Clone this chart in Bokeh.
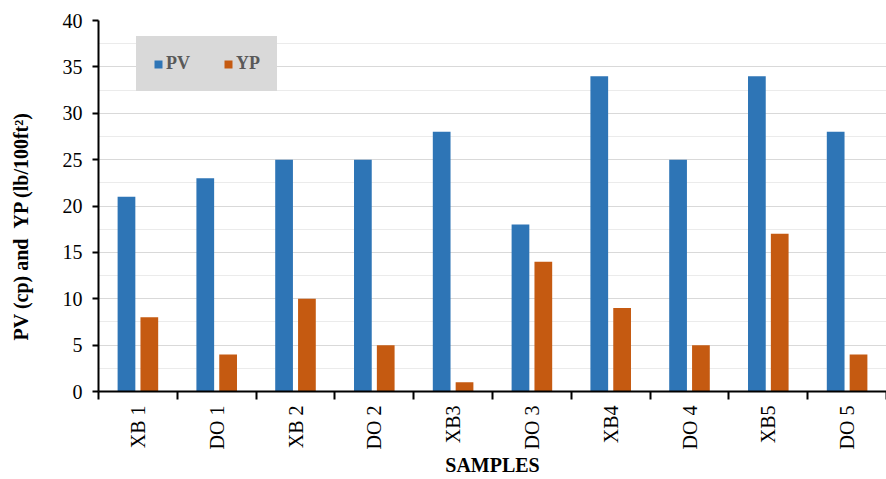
import math
from bokeh.plotting import figure
from bokeh.models import (ColumnDataSource, Range1d, LinearAxis,
                          FixedTicker, SingleIntervalTicker, Legend, LegendItem)
from bokeh.transform import dodge
from bokeh.embed import file_html
from bokeh.resources import INLINE

samples = ["XB 1", "DO 1", "XB 2", "DO 2", "XB3", "DO 3", "XB4", "DO 4", "XB5", "DO 5"]
pv = [21, 23, 25, 25, 28, 18, 34, 25, 34, 28]
yp = [8, 4, 10, 5, 1, 14, 9, 5, 17, 4]

FONT = "Liberation Serif"
BLUE = "#2e75b6"
ORANGE = "#c55a11"
LEGEND_BG = "#d9d9d9"

n = len(samples)
centers = [i + 0.5 for i in range(n)]
src = ColumnDataSource(dict(x=centers, pv=pv, yp=yp))

p = figure(x_range=Range1d(0, n), y_range=Range1d(0, 40),
           width=886, height=479, output_backend="svg", toolbar_location=None,
           x_axis_location=None, min_border_left=98, min_border_right=0,
           min_border_top=20, min_border_bottom=88)
p.outline_line_color = None
p.background_fill_color = "white"
p.border_fill_color = "white"

r1 = p.vbar(x=dodge("x", -0.145), top="pv", width=0.225,
            source=src, fill_color=BLUE, line_color=None)
r2 = p.vbar(x=dodge("x", 0.145), top="yp", width=0.225,
            source=src, fill_color=ORANGE, line_color=None)

# y axis
yax = p.yaxis[0]
yax.ticker = SingleIntervalTicker(interval=5, num_minor_ticks=2)
yax.axis_line_color = "black"
yax.axis_line_width = 2
yax.major_tick_line_width = 2
yax.major_tick_out = 6
yax.major_tick_in = 0
yax.minor_tick_line_color = None
yax.major_label_text_font = FONT
yax.major_label_text_font_size = "20px"
yax.major_label_text_color = "black"
yax.major_label_standoff = 10
yax.axis_label = "PV (cp) and \u00a0YP (lb/100ft\u00b2)" + "\u00a0" * 8
yax.axis_label_text_font = FONT
yax.axis_label_text_font_style = "bold"
yax.axis_label_text_font_size = "20px"
yax.axis_label_text_color = "black"
yax.axis_label_standoff = 28

p.xgrid.grid_line_color = None
p.ygrid.ticker = SingleIntervalTicker(interval=5, num_minor_ticks=2)
p.ygrid.grid_line_color = "#d9d9d9"
p.ygrid.minor_grid_line_color = "#ebebeb"

# boundary tick axis
tick_axis = LinearAxis(ticker=FixedTicker(ticks=list(range(n + 1))),
                       major_label_overrides={i: "" for i in range(n + 1)},
                       major_label_standoff=0,
                       major_tick_out=8, major_tick_in=0, major_tick_line_width=2,
                       minor_tick_line_color=None,
                       axis_line_width=2, axis_line_color="black")
p.add_layout(tick_axis, "below")

label_axis = LinearAxis(ticker=FixedTicker(ticks=centers),
                        major_label_overrides={c: s for c, s in zip(centers, samples)},
                        axis_line_color=None, major_tick_line_color=None,
                        minor_tick_line_color=None,
                        major_label_orientation=math.pi / 2,
                        major_label_text_font=FONT,
                        major_label_text_font_size="20px",
                        major_label_text_color="black",
                        major_label_standoff=0,
                        axis_label="SAMPLES",
                        axis_label_text_font=FONT,
                        axis_label_text_font_style="bold",
                        axis_label_text_font_size="20px",
                        axis_label_text_color="black",
                        axis_label_standoff=2)
p.add_layout(label_axis, "below")

legend = Legend(items=[LegendItem(label="PV", renderers=[r1]),
                       LegendItem(label="YP", renderers=[r2])],
                orientation="horizontal", location=(38, 300),
                background_fill_color=LEGEND_BG, background_fill_alpha=1.0,
                border_line_color=LEGEND_BG, border_line_width=1,
                label_text_font=FONT, label_text_font_style="bold",
                label_text_font_size="18px", label_text_color="#595959",
                glyph_width=10, glyph_height=10, label_standoff=3,
                label_height=12, padding=16, spacing=33, margin=0)
p.add_layout(legend)

open("out.html", "w").write(file_html(p, INLINE))
